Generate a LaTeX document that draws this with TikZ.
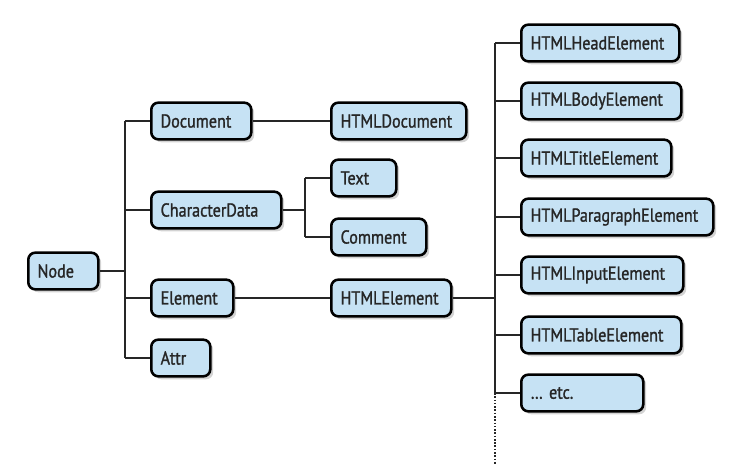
\documentclass[tikz,border=0pt]{standalone}
\usepackage{fontspec}
\setmainfont{PT Sans}[FakeStretch=0.86, FakeBold=1.3]
\usetikzlibrary{shadows}
\definecolor{boxblue}{RGB}{198,226,244}
\tikzset{
    cls/.style={draw=black, line width=2.2pt, rounded corners=6pt, fill=boxblue,
        minimum height=1.1cm, inner xsep=0.28cm, align=left, anchor=west,
        font=\fontsize{16}{18}\selectfont, text=black!85,
        drop shadow={shadow xshift=2.5pt, shadow yshift=-2.5pt, opacity=0.35}},
    link/.style={line width=1.7pt, black!85}
}
\begin{document}
\begin{tikzpicture}[x=0.03cm, y=-0.03cm]
    \useasboundingbox (0,0) rectangle (742,474);

    % Base classes
    \node[cls, text width=1.54cm] (node) at (27,271) {Node};
    \node[cls, text width=2.44cm] (document) at (150,121) {Document};
    \node[cls, text width=3.34cm] (chardata) at (150,210) {CharacterData};
    \node[cls, text width=1.90cm] (element) at (150,298) {Element};
    \node[cls, text width=1.21cm] (attr) at (150,358) {Attr};

    % Second level
    \node[cls, text width=3.49cm] (htmldoc) at (330,121) {HTMLDocument};
    \node[cls, text width=1.39cm] (text) at (330,178) {Text};
    \node[cls, text width=2.29cm] (comment) at (330,237) {Comment};
    \node[cls, text width=3.04cm] (htmlelem) at (330,298) {HTMLElement};

    % HTML element subclasses
    \node[cls, text width=4.18cm] (head) at (520,43) {HTMLHeadElement};
    \node[cls, text width=4.24cm] (body) at (520,101) {HTMLBodyElement};
    \node[cls, text width=3.94cm] (title) at (520,158) {HTMLTitleElement};
    \node[cls, text width=5.20cm] (para) at (520,217) {HTMLParagraphElement};
    \node[cls, text width=4.30cm] (input) at (520,275) {HTMLInputElement};
    \node[cls, text width=4.24cm] (table) at (520,335) {HTMLTableElement};
    \node[cls, text width=3.10cm] (etc) at (520,393) {\dots\ etc.};

    % Junction lines
    \coordinate (j1) at (125,0);
    \coordinate (j2) at (305,0);
    \coordinate (j3) at (495,0);
    \coordinate (dots) at (495,465);

    \draw[link] (node.east) -- (j1 |- node.east);
    \draw[link] (j1 |- document.west) -- (j1 |- attr.west);
    \foreach \c in {document, chardata, element, attr}
        \draw[link] (j1 |- \c.west) -- (\c.west);

    \draw[link] (document.east) -- (htmldoc.west);
    \draw[link] (element.east) -- (htmlelem.west);

    \draw[link] (chardata.east) -- (j2 |- chardata.east);
    \draw[link] (j2 |- text.west) -- (j2 |- comment.west);
    \foreach \c in {text, comment}
        \draw[link] (j2 |- \c.west) -- (\c.west);

    \draw[link] (htmlelem.east) -- (j3 |- htmlelem.east);
    \draw[link] (j3 |- head.west) -- (j3 |- etc.west);
    \draw[link, dash pattern=on 1.4pt off 1.4pt] (j3 |- etc.west) -- (dots);
    \foreach \c in {head, body, title, para, input, table, etc}
        \draw[link] (j3 |- \c.west) -- (\c.west);
\end{tikzpicture}
\end{document}
